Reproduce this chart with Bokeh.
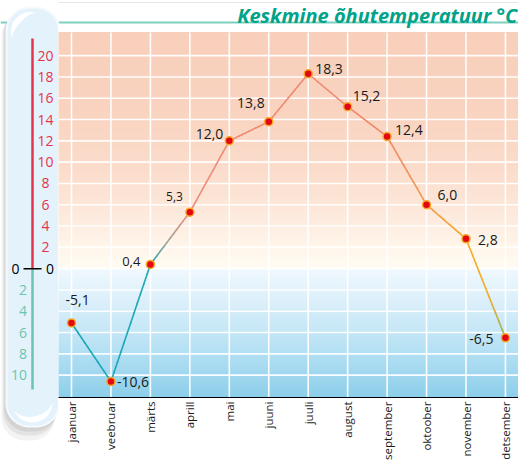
import numpy as np
from bokeh.plotting import figure
from bokeh.layouts import row
from bokeh.models import FixedTicker, ColumnDataSource, Range1d
from bokeh.core.properties import value
from bokeh.embed import file_html
from bokeh.resources import INLINE

# ---------------- data ----------------
months = ["jaanuar", "veebruar", "märts", "aprill", "mai", "juuni", "juuli",
          "august", "september", "oktoober", "november", "detsember"]
temps = [-5.1, -10.6, 0.4, 5.3, 12.0, 13.8, 18.3, 15.2, 12.4, 6.0, 2.8, -6.5]
temp_labels = ["-5,1", "-10,6", "0,4", "5,3", "12,0", "13,8", "18,3",
               "15,2", "12,4", "6,0", "2,8", "-6,5"]
therm_pos_ticks = [2, 4, 6, 8, 10, 12, 14, 16, 18, 20]
therm_neg_ticks = [-2, -4, -6, -8, -10]
therm_neg_labels = ["2", "4", "6", "8", "10"]
title_text = "Keskmine õhutemperatuur °C"

# ---------------- layout constants ----------------
FONT = "Open Sans"
H = 463
PPD = 10.65                 # pixels per degree
Y_MIN = -12.1
FRAME_BOTTOM = 397
Y_TOP = Y_MIN + FRAME_BOTTOM / PPD
BG_TOP = 22.17
PPM = 39.45                 # pixels per month
X_START = -13 / PPM
X_END = X_START + 460 / PPM
Y0_PAGE = FRAME_BOTTOM + Y_MIN * PPD  # page y of zero


def deg(page_y):
    return (Y0_PAGE - page_y) / PPD


def hex2rgb(h):
    h = h.lstrip("#")
    return np.array([int(h[i:i + 2], 16) for i in (0, 2, 4)], dtype=float)


def interp_color(v, stops):
    vs = [s[0] for s in stops]
    cs = [hex2rgb(s[1]) for s in stops]
    if vs[0] > vs[-1]:
        vs = vs[::-1]
        cs = cs[::-1]
    rgb = [np.interp(v, vs, [c[k] for c in cs]) for k in range(3)]
    return "#%02x%02x%02x" % tuple(int(round(c)) for c in rgb)


# ---------------- main chart ----------------
p = figure(width=460, height=H, output_backend="svg", toolbar_location=None,
           x_range=Range1d(X_START, X_END), y_range=Range1d(Y_MIN, Y_TOP),
           y_axis_location=None,
           min_border_left=0, min_border_right=0, min_border_top=0,
           min_border_bottom=H - FRAME_BOTTOM, frame_align=False)
p.outline_line_color = None
p.background_fill_color = "white"
p.border_fill_color = "white"
p.xgrid.visible = False

# background gradient (overlapping strips, drawn bottom to top, no seams)
pos_stops = [(BG_TOP, "#F8CFBB"), (14, "#F9D4C1"), (9, "#FBDDCC"),
             (5, "#FDEADD"), (2, "#FFF5EA"), (0.0, "#FFFBF2")]
neg_stops = [(0.0, "#EFF8FE"), (-3, "#DCEFFA"), (-6, "#C3E6F6"),
             (-9, "#A9DBF1"), (Y_MIN, "#8CCEEA")]
STEP = 0.25
neg_edges = np.linspace(Y_MIN, 0.0, int(round(-Y_MIN / STEP)) + 1)
pos_edges = np.linspace(0.0, BG_TOP, int(round(BG_TOP / STEP)) + 1)
bots, tops_, cols = [], [], []
for edges_, stops_ in [(neg_edges, neg_stops), (pos_edges, pos_stops)]:
    for a, b in zip(edges_[:-1], edges_[1:]):
        top_v = b + 0.3 if b < BG_TOP - 1e-9 and b != 0.0 else b
        cols.append(interp_color((a + b) / 2, stops_))
        bots.append(a)
        tops_.append(top_v)
p.quad(left=X_START, right=X_END, bottom=bots, top=tops_, fill_color=cols,
       line_color=None)

# grid lines
grid_ticks = list(range(-10, 21, 2))
p.segment(x0=X_START, x1=X_END, y0=grid_ticks, y1=grid_ticks,
          line_color="white", line_width=1.6, line_alpha=0.95)
month_idx = list(range(len(months)))
p.segment(x0=month_idx, x1=month_idx, y0=Y_MIN, y1=BG_TOP,
          line_color="white", line_width=1.6, line_alpha=0.95)

# title and rule
p.segment(x0=[X_START], x1=[X_END], y0=[deg(22)], y1=[deg(22)],
          line_color="#7FCFBF", line_width=2)
p.text(x=[X_END - 0.03], y=[deg(14.5)], text=[title_text], text_align="right",
       text_baseline="alphabetic", text_font=value(FONT),
       text_font_style="bold italic", text_font_size="20px", text_color="#00A389")

# temperature line with horizontal colour gradient
line_stops = [(0, "#19A7B9"), (2.0, "#1FA9B5"), (2.45, "#A0A39A"), (3.0, "#EE8D7B"),
              (8.0, "#F0896C"), (9.0, "#F39A50"), (10.0, "#F6AA2A"),
              (10.6, "#F1AE2C"), (11.0, "#93B566")]
sx0, sx1, sy0, sy1, sc = [], [], [], [], []
n_sub = 12
for i in range(len(temps) - 1):
    xs = np.linspace(month_idx[i], month_idx[i + 1], n_sub + 1)
    ys = np.linspace(temps[i], temps[i + 1], n_sub + 1)
    for k in range(n_sub):
        sx0.append(xs[k]); sx1.append(xs[k + 1])
        sy0.append(ys[k]); sy1.append(ys[k + 1])
        sc.append(interp_color((xs[k] + xs[k + 1]) / 2, line_stops))
p.segment(x0=sx0, x1=sx1, y0=sy0, y1=sy1, line_color=sc, line_width=1.6,
          line_cap="round")

p.scatter(x=month_idx, y=temps, size=8, fill_color="#E30613",
          line_color="#F7A823", line_width=1.5)

# value labels (placement style)
lab_dx = [-6, 6, -10, -7, -6, -4, 7, 5, 8, 11, 12, -12]
lab_dy = [-23, 0, -3, -16, -7, -19, -5, -11, -7, -10, 1, 1]
lab_align = ["left", "left", "right", "right", "right", "right", "left",
             "left", "left", "left", "left", "right"]
lab_size = ["14px", "14px", "13px", "12px", "14px", "14px", "14px",
            "14px", "14px", "14px", "14px", "14px"]
src = ColumnDataSource(dict(x=month_idx, y=temps, t=temp_labels, dx=lab_dx,
                            dy=lab_dy, al=lab_align, fs=lab_size))
p.text(x="x", y="y", text="t", x_offset="dx", y_offset="dy", text_align="al",
       text_font_size="fs", text_baseline="middle", text_font=value(FONT),
       text_color="#1a1a1a", source=src)

# x axis
p.xaxis.ticker = FixedTicker(ticks=month_idx)
p.xaxis.major_label_overrides = {i: m for i, m in enumerate(months)}
p.xaxis.major_label_orientation = np.pi / 2
p.xaxis.major_tick_line_color = None
p.xaxis.minor_tick_line_color = None
p.xaxis.major_tick_out = 0
p.xaxis.major_tick_in = 0
p.xaxis.axis_line_color = "black"
p.xaxis.axis_line_width = 1
p.xaxis.major_label_text_font = FONT
p.xaxis.major_label_text_font_size = "11.5px"
p.xaxis.major_label_text_color = "#1a1a1a"
p.xaxis.major_label_standoff = 4

# ---------------- thermometer ----------------
t = figure(width=58, height=H, output_backend="svg", toolbar_location=None,
           x_range=Range1d(0, 58), y_range=Range1d(deg(H), deg(0)),
           x_axis_location=None, y_axis_location=None, min_border=0,
           frame_align=False)
t.outline_line_color = None
t.background_fill_color = "white"
t.border_fill_color = "white"
t.grid.visible = False


def rrect(L, R, T, B, r, n=18):
    pts = []
    for cx, cy, a0 in [(R - r, T + r, 0), (L + r, T + r, 90),
                       (L + r, B - r, 180), (R - r, B - r, 270)]:
        for a in np.linspace(a0, a0 + 90, n):
            th = np.radians(a)
            pts.append((cx + r * np.cos(th), cy - r * np.sin(th)))
    return [q[0] for q in pts], [deg(q[1]) for q in pts]


def crescent(cx, cy, r, a0, a1, w, n=40):
    ts = np.linspace(0, 1, n)
    ang = np.radians(a0 + (a1 - a0) * ts)
    ox = cx + r * np.cos(ang)
    oy = cy - r * np.sin(ang)
    ri = r - w * np.sin(np.pi * ts)
    ix = (cx + ri * np.cos(ang))[::-1]
    iy = (cy - ri * np.sin(ang))[::-1]
    xs = list(ox) + list(ix)
    ys = [deg(v) for v in list(oy) + list(iy)]
    return xs, ys


t.segment(x0=[0], x1=[58], y0=[deg(22)], y1=[deg(22)],
          line_color="#7FCFBF", line_width=2)
for (L, R, T, B, a) in [(1, 54, 13, 440, 0.10), (2.5, 55.5, 11, 435, 0.14),
                        (4, 57, 9, 431, 0.18)]:
    sx, sy = rrect(L, R, T, B, 23)
    t.patch(sx, sy, fill_color="#8a8a8a", fill_alpha=a, line_color=None)
cx_, cy_ = rrect(6, 58.5, 7, 426, 23)
t.patch(cx_, cy_, fill_color="#E4F2FB", line_color="#F4FAFE", line_width=2)
gx, gy = crescent(30, 31, 19.5, 200, 75, 6)
t.patch(gx, gy, fill_color="white", line_color=None)
gx, gy = crescent(32, 402, 20, 205, 360, 6)
t.patch(gx, gy, fill_color="white", line_color=None)

t.segment(x0=[32], x1=[32], y0=[deg(38)], y1=[0], line_color="#E4344E",
          line_width=2.5)
t.segment(x0=[32], x1=[32], y0=[0], y1=[deg(389)], line_color="#6CC5AE",
          line_width=2.5)
t.segment(x0=[23], x1=[41], y0=[0], y1=[0], line_color="black", line_width=1.5)

t.text(x=45, y=therm_pos_ticks, text=[str(v) for v in therm_pos_ticks],
       text_align="center", text_baseline="middle", text_font=value(FONT),
       text_font_size="14px", text_color="#E4344E")
t.text(x=26.5, y=therm_neg_ticks, text=therm_neg_labels,
       text_align="right", text_baseline="middle", text_font=value(FONT),
       text_font_size="14px", text_color="#6CC5AE")
t.text(x=[15, 49.5], y=[0, 0], text=["0", "0"], text_align="center",
       text_baseline="middle", text_font=value(FONT), text_font_size="14px",
       text_color="black")

layout = row(t, p, spacing=0)
open("out.html", "w").write(file_html(layout, INLINE))
